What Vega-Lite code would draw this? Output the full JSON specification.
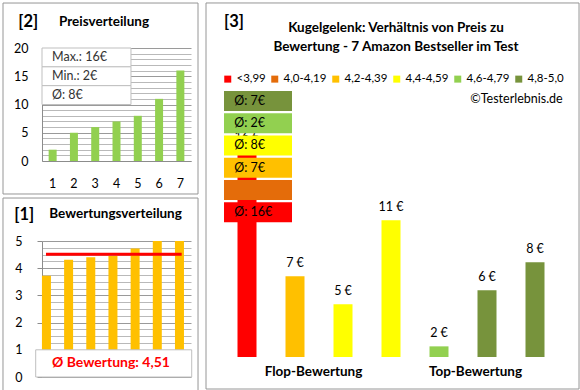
{
  "$schema": "https://vega.github.io/schema/vega-lite/v6.json",
  "padding": {"top": 2, "left": 2, "right": 0, "bottom": 0},
  "config": {
    "font": "Lato",
    "view": {"stroke": null},
    "scale": {"continuousPadding": 0},
    "axis": {"labelFont": "Lato", "labelColor": "#000", "labelFontSize": 12.5, "title": null, "domainColor": "#8c8c8c", "tickColor": "#8c8c8c", "labelOverlap": false},
    "text": {"font": "Lato"}
  },
  "hconcat": [
    {
      "spacing": 2,
      "vconcat": [
        {
          "width": 149,
          "height": 113,
          "layer": [
            {
              "data": {"values": [
                {"pos": 1, "price": 2}, {"pos": 2, "price": 5}, {"pos": 3, "price": 6}, {"pos": 4, "price": 7},
                {"pos": 5, "price": 8}, {"pos": 6, "price": 11}, {"pos": 7, "price": 16}
              ]},
              "mark": {"type": "point", "opacity": 0},
              "encoding": {
                "x": {"field": "pos", "type": "quantitative", "scale": {"domain": [0.5, 7.5], "zero": false, "padding": 0},
                  "axis": {"values": [1, 2, 3, 4, 5, 6, 7], "labels": false, "ticks": false, "grid": false}},
                "y": {"field": "price", "type": "quantitative", "scale": {"domain": [0, 20], "zero": false},
                  "axis": {"orient": "left", "values": [1,2,3,4,6,7,8,9,11,12,13,14,16,17,18,19], "grid": true, "gridColor": "#b9b9b9",
                    "labels": false, "ticks": false, "domain": false, "minExtent": 0, "maxExtent": 0}}
              }
            },
            {
              "data": {"values": [
                {"pos": 1, "price": 2}, {"pos": 2, "price": 5}, {"pos": 3, "price": 6}, {"pos": 4, "price": 7},
                {"pos": 5, "price": 8}, {"pos": 6, "price": 11}, {"pos": 7, "price": 16}
              ]},
              "mark": {"type": "bar", "width": 8, "color": "#92D050"},
              "encoding": {
                "x": {"field": "pos", "type": "quantitative", "scale": {"domain": [0.5, 7.5], "zero": false, "padding": 0},
                  "axis": {"values": [1, 2, 3, 4, 5, 6, 7], "labels": false, "ticks": false, "grid": false}},
                "y": {"field": "price", "type": "quantitative", "scale": {"domain": [0, 20], "zero": false},
                  "axis": {"orient": "left", "values": [0, 5, 10, 15, 20], "grid": true, "gridColor": "#9a9a9a", "ticks": false, "labelPadding": 14, "labelOverlap": false}}
              }
            },
            {
              "data": {"values": [
                {"pos": 1, "price": 2}, {"pos": 2, "price": 5}, {"pos": 3, "price": 6}, {"pos": 4, "price": 7},
                {"pos": 5, "price": 8}, {"pos": 6, "price": 11}, {"pos": 7, "price": 16}
              ]},
              "mark": {"type": "text", "fontSize": 12.5, "color": "#000", "baseline": "middle"},
              "encoding": {
                "x": {"field": "pos", "type": "quantitative", "scale": {"domain": [0.5, 7.5], "zero": false, "padding": 0}},
                "y": {"datum": -4.07, "scale": {"domain": [0, 20], "zero": false}, "axis": null},
                "text": {"field": "pos", "type": "quantitative", "format": "d"}
              }
            },
            {
              "data": {"values": [{}]},
              "mark": {"type": "rect", "fill": null, "stroke": "#969696", "strokeWidth": 1},
              "encoding": {
                "x": {"datum": -1.332, "scale": {"domain": [0.5, 7.5], "zero": false, "padding": 0}},
                "x2": {"datum": 7.829},
                "y": {"datum": 27.96, "scale": {"domain": [0, 20], "zero": false}, "axis": null},
                "y2": {"datum": -5.84}
              }
            },
            {
              "data": {"values": [{}]},
              "mark": {"type": "text", "text": "[2]", "fontSize": 16.5, "fontWeight": "bold", "color": "#000", "baseline": "middle"},
              "encoding": {
                "x": {"datum": -0.148, "scale": {"domain": [0.5, 7.5], "zero": false, "padding": 0}},
                "y": {"datum": 24.69, "scale": {"domain": [0, 20], "zero": false}, "axis": null}
              }
            },
            {
              "data": {"values": [{}]},
              "mark": {"type": "text", "text": "Preisverteilung", "fontSize": 13.5, "fontWeight": "bold", "color": "#000", "align": "left", "baseline": "middle"},
              "encoding": {
                "x": {"datum": 1.299, "scale": {"domain": [0.5, 7.5], "zero": false, "padding": 0}},
                "y": {"datum": 24.6, "scale": {"domain": [0, 20], "zero": false}, "axis": null}
              }
            },
            {
              "data": {"values": [{"stat": "Max.: 16€"}, {"stat": "Min.: 2€"}, {"stat": "Ø: 8€"}]},
              "encoding": {
                "y": {"field": "stat", "type": "ordinal",
                  "scale": {"domain": ["Max.: 16€", "Min.: 2€", "Ø: 8€", "f1", "f2", "f3"], "paddingInner": 0, "paddingOuter": 0},
                  "axis": null}
              },
              "layer": [
                {"mark": {"type": "bar", "fill": "#ffffff", "stroke": "#bfbfbf", "strokeWidth": 1},
                 "encoding": {"x": {"datum": 0.5, "scale": {"domain": [0.5, 7.5], "zero": false, "padding": 0}}, "x2": {"datum": 4.68}}},
                {"mark": {"type": "text", "align": "left", "fontSize": 12.5, "color": "#333"},
                 "encoding": {"x": {"datum": 0.97, "scale": {"domain": [0.5, 7.5], "zero": false, "padding": 0}}, "text": {"field": "stat"}}}
              ]
            }
          ],
          "resolve": {"scale": {"y": "independent"}, "axis": {"y": "independent"}}
        },
        {
          "width": 149,
          "height": 136,
          "data": {"values": [
            {"pos": 1, "rating": 3.72}, {"pos": 2, "rating": 4.31}, {"pos": 3, "rating": 4.4}, {"pos": 4, "rating": 4.45},
            {"pos": 5, "rating": 4.72}, {"pos": 6, "rating": 5.0}, {"pos": 7, "rating": 5.0}
          ]},
          "layer": [
            {
              "mark": {"type": "point", "opacity": 0},
              "encoding": {
                "x": {"field": "pos", "type": "quantitative", "scale": {"domain": [0.8, 7.52], "zero": false, "padding": 0}, "axis": null},
                "y": {"field": "rating", "type": "quantitative", "scale": {"domain": [0, 5], "zero": false},
                  "axis": {"orient": "left", "values": [1.25,1.5,1.75,2.25,2.5,2.75,3.25,3.5,3.75,4.25,4.5,4.75], "grid": true, "gridColor": "#b9b9b9",
                    "labels": false, "ticks": false, "domain": false, "minExtent": 0, "maxExtent": 0}}
              }
            },
            {
              "mark": {"type": "bar", "width": 9, "color": "#FFC000"},
              "encoding": {
                "x": {"field": "pos", "type": "quantitative", "scale": {"domain": [0.8, 7.52], "zero": false, "padding": 0}, "axis": null},
                "y": {"field": "rating", "type": "quantitative", "scale": {"domain": [0, 5], "zero": false},
                  "axis": {"orient": "left", "values": [0, 1, 2, 3, 4, 5], "grid": true, "gridColor": "#9a9a9a", "ticks": true, "tickSize": 5, "labelPadding": 15, "labelOverlap": false}}
              }
            },
            {
              "mark": {"type": "rule", "color": "#FF0000", "strokeWidth": 3},
              "encoding": {
                "y": {"aggregate": "mean", "field": "rating", "type": "quantitative", "scale": {"domain": [0, 5], "zero": false}, "axis": null},
                "x": {"datum": 0.98, "scale": {"domain": [0.8, 7.52], "zero": false, "padding": 0}, "axis": null},
                "x2": {"datum": 7.1}
              }
            },
            {
              "data": {"values": [{}]},
              "mark": {"type": "rect", "fill": "#ffffff", "stroke": "#bfbfbf", "strokeWidth": 1},
              "encoding": {
                "x": {"datum": 0.516, "scale": {"domain": [0.8, 7.52], "zero": false, "padding": 0}, "axis": null}, "x2": {"datum": 7.552},
                "y": {"datum": 1, "scale": {"domain": [0, 5], "zero": false}, "axis": null}, "y2": {"datum": 0}
              }
            },
            {
              "transform": [
                {"aggregate": [{"op": "mean", "field": "rating", "as": "m"}]},
                {"calculate": "'Ø Bewertung: ' + replace(format(datum.m, '.2f'), '.', ',')", "as": "lbl"}
              ],
              "mark": {"type": "text", "color": "#FF0000", "fontSize": 14, "fontWeight": "bold"},
              "encoding": {
                "x": {"datum": 3.91, "scale": {"domain": [0.8, 7.52], "zero": false, "padding": 0}, "axis": null},
                "y": {"datum": 0.5, "scale": {"domain": [0, 5], "zero": false}, "axis": null},
                "text": {"field": "lbl"}
              }
            },
            {
              "data": {"values": [{}]},
              "mark": {"type": "rect", "fill": null, "stroke": "#969696", "strokeWidth": 1},
              "encoding": {
                "x": {"datum": -0.959, "scale": {"domain": [0.8, 7.52], "zero": false, "padding": 0}, "axis": null}, "x2": {"datum": 7.837},
                "y": {"datum": 6.58, "scale": {"domain": [0, 5], "zero": false}, "axis": null}, "y2": {"datum": -0.515}
              }
            },
            {
              "data": {"values": [{}]},
              "mark": {"type": "text", "text": "[1]", "fontSize": 16.5, "fontWeight": "bold", "color": "#000", "baseline": "middle"},
              "encoding": {
                "x": {"datum": 0.002, "scale": {"domain": [0.8, 7.52], "zero": false, "padding": 0}, "axis": null},
                "y": {"datum": 5.974, "scale": {"domain": [0, 5], "zero": false}, "axis": null}
              }
            },
            {
              "data": {"values": [{}]},
              "mark": {"type": "text", "text": "Bewertungsverteilung", "fontSize": 13.5, "fontWeight": "bold", "color": "#000", "align": "left", "baseline": "middle"},
              "encoding": {
                "x": {"datum": 1.129, "scale": {"domain": [0.8, 7.52], "zero": false, "padding": 0}, "axis": null},
                "y": {"datum": 6.0, "scale": {"domain": [0, 5], "zero": false}, "axis": null}
              }
            }
          ],
          "resolve": {"axis": {"y": "independent"}}
        }
      ]
    },
    {
      "width": 360,
      "height": 309,
      "layer": [
        {
          "layer": [
            {
              "data": {"values": [
                {"pos": 1, "price": 16, "grp": "<3,99"},
                {"pos": 2, "price": 7, "grp": "4,2-4,39"},
                {"pos": 3, "price": 5, "grp": "4,4-4,59"},
                {"pos": 4, "price": 11, "grp": "4,4-4,59"},
                {"pos": 5, "price": 2, "grp": "4,6-4,79"},
                {"pos": 6, "price": 6, "grp": "4,8-5,0"},
                {"pos": 7, "price": 8, "grp": "4,8-5,0"}
              ]},
              "transform": [{"calculate": "datum.price + ' €'", "as": "lbl"}],
              "layer": [
                {
                  "mark": {"type": "bar", "width": 19},
                  "encoding": {
                    "x": {"field": "pos", "type": "quantitative", "scale": {"domain": [0.25, 7.75], "zero": false, "padding": 0},
                      "axis": {"values": [2.375, 5.75], "labelExpr": "datum.value < 4 ? 'Flop-Bewertung' : 'Top-Bewertung'",
                        "ticks": false, "domain": false, "grid": false, "labelFontSize": 13.5, "labelFontWeight": "bold", "labelPadding": 7}},
                    "y": {"field": "price", "type": "quantitative", "scale": {"domain": [1.24, 23.31], "zero": false}, "axis": null},
                    "y2": {"datum": 1.24},
                    "color": {"field": "grp", "type": "nominal",
                      "scale": {"domain": ["<3,99", "4,0-4,19", "4,2-4,39", "4,4-4,59", "4,6-4,79", "4,8-5,0"],
                        "range": ["#FF0000", "#E46C0A", "#FFC000", "#FFFF00", "#92D050", "#77933C"]},
                      "legend": {"orient": "none", "legendX": 180, "legendY": 25, "direction": "horizontal", "title": null,
                        "symbolType": "square", "symbolSize": 49, "symbolStrokeWidth": 0, "labelFontSize": 11.5, "labelOffset": 3,
                        "columnPadding": 3, "columns": 6, "labelColor": "#000", "labelFont": "Lato"}}
                  }
                },
                {
                  "mark": {"type": "text", "dy": -13, "fontSize": 12.5, "color": "#000"},
                  "encoding": {
                    "x": {"field": "pos", "type": "quantitative", "scale": {"domain": [0.25, 7.75], "zero": false, "padding": 0}},
                    "y": {"field": "price", "type": "quantitative", "scale": {"domain": [1.24, 23.31], "zero": false}, "axis": null},
                    "text": {"field": "lbl"}
                  }
                }
              ]
            },
            {
              "data": {"values": [{}]},
              "mark": {"type": "rect", "fill": null, "stroke": "#969696", "strokeWidth": 1},
              "encoding": {
                "x": {"datum": 0.146, "scale": {"domain": [0.25, 7.75], "zero": false, "padding": 0}}, "x2": {"datum": 7.917},
                "y": {"datum": 26.526, "scale": {"domain": [1.24, 23.31], "zero": false}, "axis": null}, "y2": {"datum": -1.046}
              }
            },
            {
              "data": {"values": [{}]},
              "mark": {"type": "text", "text": "[3]", "fontSize": 16.5, "fontWeight": "bold", "color": "#000", "baseline": "middle"},
              "encoding": {
                "x": {"datum": 0.729, "scale": {"domain": [0.25, 7.75], "zero": false, "padding": 0}},
                "y": {"datum": 25.2, "scale": {"domain": [1.24, 23.31], "zero": false}, "axis": null}
              }
            },
            {
              "data": {"values": [{}]},
              "mark": {"type": "text", "text": "Kugelgelenk: Verhältnis von Preis zu", "fontSize": 13.5, "fontWeight": "bold", "color": "#000", "baseline": "middle"},
              "encoding": {
                "x": {"datum": 4.104, "scale": {"domain": [0.25, 7.75], "zero": false, "padding": 0}},
                "y": {"datum": 24.74, "scale": {"domain": [1.24, 23.31], "zero": false}, "axis": null}
              }
            },
            {
              "data": {"values": [{}]},
              "mark": {"type": "text", "text": "Bewertung - 7 Amazon Bestseller im Test", "fontSize": 13.5, "fontWeight": "bold", "color": "#000", "baseline": "middle"},
              "encoding": {
                "x": {"datum": 4.104, "scale": {"domain": [0.25, 7.75], "zero": false, "padding": 0}},
                "y": {"datum": 23.38, "scale": {"domain": [1.24, 23.31], "zero": false}, "axis": null}
              }
            },
            {
              "data": {"values": [{}]},
              "mark": {"type": "text", "text": "©Testerlebnis.de", "fontSize": 12.5, "color": "#000", "align": "right", "baseline": "middle"},
              "encoding": {
                "x": {"datum": 7.577, "scale": {"domain": [0.25, 7.75], "zero": false, "padding": 0}},
                "y": {"datum": 19.69, "scale": {"domain": [1.24, 23.31], "zero": false}, "axis": null}
              }
            }
          ]
        },
        {
          "data": {"values": [
            {"grp": "4,8-5,0", "avg": "Ø: 7€"},
            {"grp": "4,6-4,79", "avg": "Ø: 2€"},
            {"grp": "4,4-4,59", "avg": "Ø: 8€"},
            {"grp": "4,2-4,39", "avg": "Ø: 7€"},
            {"grp": "4,0-4,19", "avg": ""},
            {"grp": "<3,99", "avg": "Ø: 16€"}
          ]},
          "encoding": {
            "y": {"field": "grp", "type": "ordinal",
              "scale": {"domain": ["t1", "4,8-5,0", "4,6-4,79", "4,4-4,59", "4,2-4,39", "4,0-4,19", "<3,99", "f1", "f2", "f3", "f4", "f5"],
                "paddingInner": 0.1, "paddingOuter": 1, "align": 0.467},
              "axis": null}
          },
          "layer": [
            {
              "mark": {"type": "bar"},
              "encoding": {"x": {"datum": 0.521, "scale": {"domain": [0.25, 7.75], "zero": false, "padding": 0}}, "x2": {"datum": 1.9375}, "color": {"field": "grp", "type": "nominal"}}
            },
            {
              "mark": {"type": "text", "align": "left", "fontSize": 12.5, "color": "#000"},
              "encoding": {"x": {"datum": 0.735, "scale": {"domain": [0.25, 7.75], "zero": false, "padding": 0}}, "text": {"field": "avg"}}
            }
          ]
        }
      ],
      "resolve": {"scale": {"y": "independent"}}
    }
  ],
  "spacing": 6
}
